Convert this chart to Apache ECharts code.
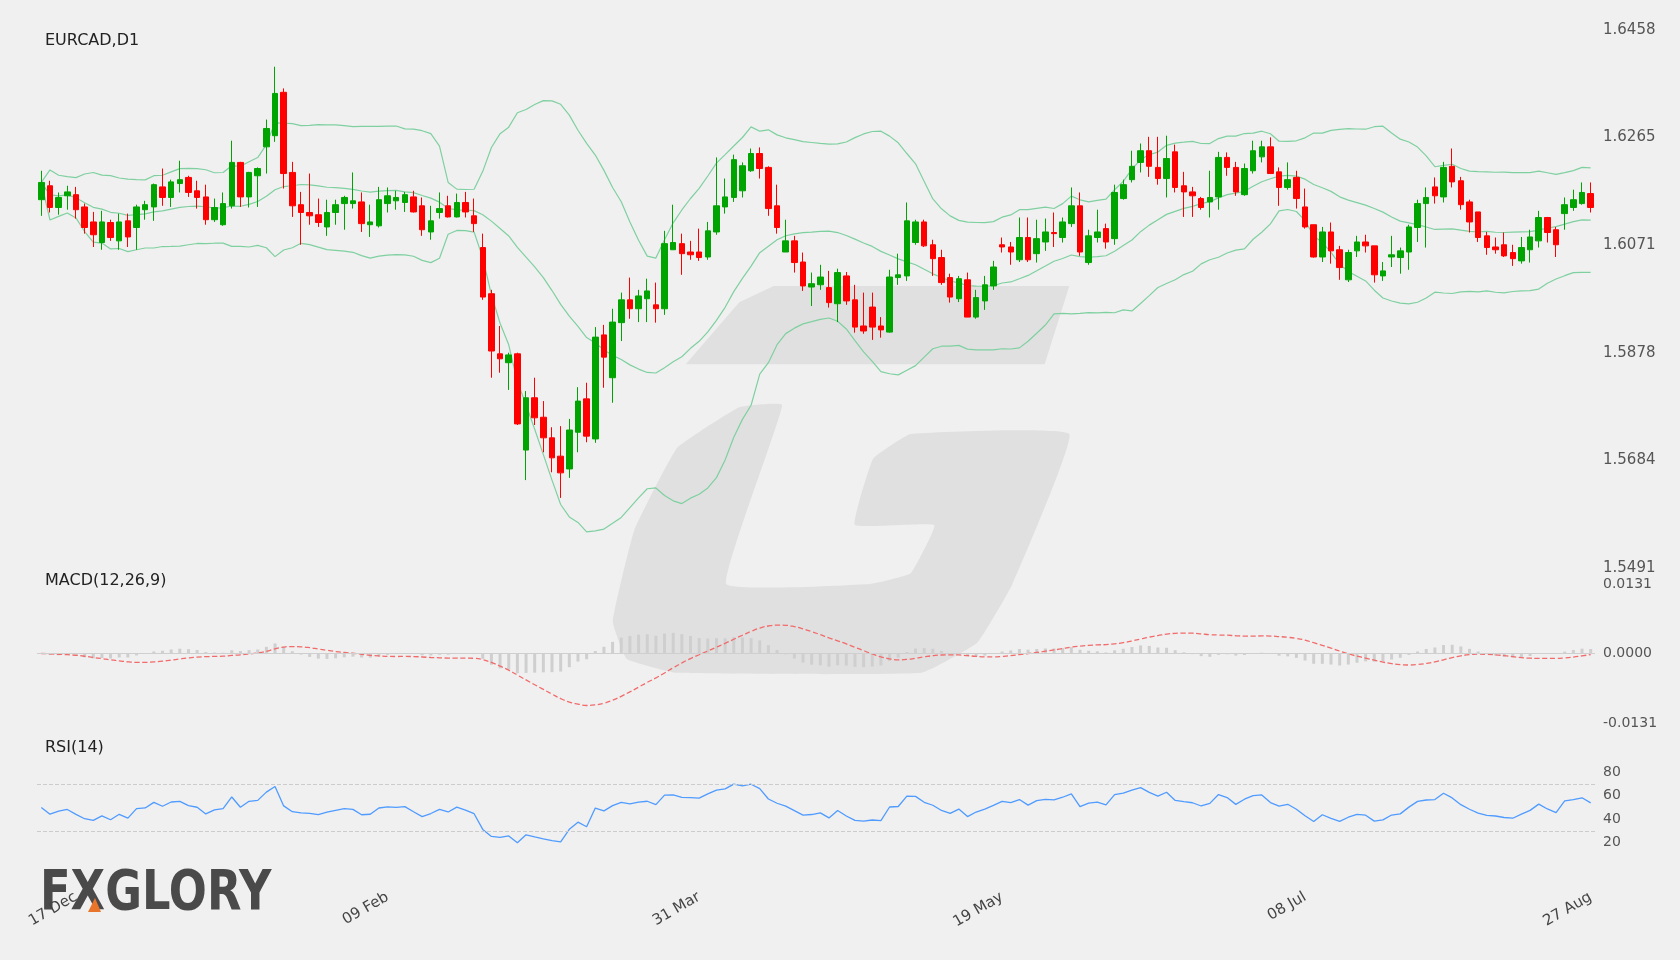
<!DOCTYPE html>
<html><head><meta charset="utf-8">
<script src="https://cdn.jsdelivr.net/npm/echarts@6/dist/echarts.min.js"></script>
<style>html,body{margin:0;padding:0;background:#f0f0f0}#c{width:1680px;height:960px}</style>
</head><body><div id="c"></div>
<script>
const opens=[1.6153,1.6178,1.6139,1.6160,1.6162,1.6140,1.6113,1.6076,1.6112,1.6079,1.6115,1.6103,1.6135,1.6140,1.6176,1.6157,1.6182,1.6193,1.6169,1.6158,
1.6117,1.6108,1.6142,1.6220,1.6158,1.6196,1.6248,1.6268,1.6346,1.6202,1.6144,1.6130,1.6126,1.6104,1.6130,1.6146,1.6146,1.6149,1.6108,1.6106,
1.6146,1.6151,1.6148,1.6158,1.6142,1.6095,1.6130,1.6142,1.6122,1.6148,1.6124,1.6067,1.5984,1.5876,1.5860,1.5876,1.5703,1.5797,1.5762,1.5725,
1.5692,1.5669,1.5735,1.5795,1.5723,1.5910,1.5833,1.5932,1.5973,1.5957,1.5975,1.5964,1.5957,1.6063,1.6074,1.6059,1.6059,1.6050,1.6095,1.6140,
1.6157,1.6169,1.6205,1.6236,1.6211,1.6142,1.6059,1.6079,1.6041,1.5996,1.6000,1.5995,1.5966,1.6016,1.5973,1.5926,1.5960,1.5926,1.5915,1.6013,
1.6016,1.6076,1.6113,1.6072,1.6049,1.6013,1.5975,1.6009,1.5942,1.5971,1.5998,1.6072,1.6068,1.6045,1.6085,1.6056,1.6077,1.6094,1.6085,1.6110,
1.6142,1.6040,1.6085,1.6101,1.6083,1.6155,1.6189,1.6220,1.6241,1.6211,1.6191,1.6239,1.6178,1.6167,1.6155,1.6149,1.6158,1.6229,1.6211,1.6162,
1.6205,1.6230,1.6248,1.6203,1.6175,1.6193,1.6140,1.6108,1.6050,1.6095,1.6063,1.6009,1.6061,1.6077,1.6070,1.6016,1.6050,1.6049,1.6059,1.6103,
1.6146,1.6176,1.6158,1.6213,1.6187,1.6149,1.6131,1.6088,1.6068,1.6072,1.6058,1.6043,1.6063,1.6079,1.6121,1.6099,1.6128,1.6139,1.6146,1.6164];
const closes=[1.6184,1.6139,1.6157,1.6167,1.6135,1.6103,1.6090,1.6113,1.6085,1.6113,1.6086,1.6140,1.6144,1.6180,1.6157,1.6185,1.6189,1.6166,1.6157,1.6117,
1.6139,1.6146,1.6220,1.6158,1.6202,1.6209,1.6281,1.6344,1.6200,1.6142,1.6130,1.6124,1.6112,1.6130,1.6144,1.6157,1.6151,1.6110,1.6113,1.6153,
1.6160,1.6157,1.6162,1.6131,1.6099,1.6115,1.6137,1.6122,1.6148,1.6131,1.6110,1.5978,1.5881,1.5867,1.5874,1.5750,1.5797,1.5761,1.5725,1.5689,
1.5662,1.5739,1.5791,1.5728,1.5906,1.5870,1.5933,1.5973,1.5957,1.5980,1.5989,1.5957,1.6074,1.6076,1.6056,1.6054,1.6049,1.6097,1.6142,1.6158,
1.6225,1.6214,1.6236,1.6209,1.6137,1.6103,1.6079,1.6040,1.5998,1.6002,1.6014,1.5968,1.6022,1.5971,1.5924,1.5917,1.5924,1.5919,1.6014,1.6018,
1.6115,1.6113,1.6070,1.6047,1.6004,1.5978,1.6011,1.5942,1.5977,1.6000,1.6032,1.6068,1.6059,1.6085,1.6045,1.6083,1.6095,1.6092,1.6113,1.6142,
1.6059,1.6088,1.6095,1.6077,1.6166,1.6180,1.6213,1.6241,1.6213,1.6191,1.6227,1.6175,1.6167,1.6160,1.6139,1.6157,1.6229,1.6211,1.6167,1.6209,
1.6241,1.6248,1.6200,1.6175,1.6189,1.6155,1.6104,1.6050,1.6095,1.6061,1.6031,1.6058,1.6077,1.6070,1.6018,1.6025,1.6054,1.6061,1.6104,1.6146,
1.6157,1.6160,1.6211,1.6185,1.6144,1.6113,1.6085,1.6067,1.6063,1.6052,1.6047,1.6067,1.6086,1.6121,1.6094,1.6072,1.6144,1.6153,1.6166,1.6139];
const highs=[1.6205,1.6187,1.6166,1.6178,1.6176,1.6146,1.6131,1.6133,1.6117,1.6128,1.6128,1.6144,1.6151,1.6182,1.6209,1.6189,1.6223,1.6196,1.6187,1.6180,
1.6155,1.6166,1.6259,1.6221,1.6203,1.6211,1.6297,1.6392,1.6353,1.6221,1.6167,1.6200,1.6155,1.6153,1.6153,1.6160,1.6202,1.6166,1.6144,1.6176,
1.6175,1.6169,1.6167,1.6169,1.6157,1.6142,1.6166,1.6160,1.6164,1.6167,1.6155,1.6092,1.5991,1.5926,1.5878,1.5878,1.5809,1.5833,1.5791,1.5744,
1.5746,1.5759,1.5816,1.5824,1.5924,1.5928,1.5957,1.5986,1.6013,1.5991,1.6011,1.6004,1.6097,1.6144,1.6092,1.6079,1.6101,1.6113,1.6229,1.6191,
1.6234,1.6220,1.6245,1.6247,1.6213,1.6180,1.6117,1.6088,1.6058,1.6022,1.6036,1.6025,1.6029,1.6023,1.6000,1.5986,1.5986,1.5942,1.6027,1.6056,
1.6148,1.6117,1.6117,1.6081,1.6063,1.6020,1.6016,1.6022,1.5991,1.6016,1.6043,1.6085,1.6077,1.6121,1.6121,1.6117,1.6119,1.6130,1.6121,1.6175,
1.6166,1.6099,1.6135,1.6110,1.6180,1.6189,1.6241,1.6254,1.6266,1.6266,1.6268,1.6252,1.6203,1.6176,1.6158,1.6205,1.6239,1.6238,1.6221,1.6218,
1.6259,1.6259,1.6265,1.6211,1.6220,1.6205,1.6173,1.6108,1.6104,1.6112,1.6070,1.6063,1.6088,1.6090,1.6070,1.6041,1.6088,1.6067,1.6108,1.6153,
1.6175,1.6193,1.6221,1.6245,1.6194,1.6153,1.6131,1.6095,1.6085,1.6094,1.6072,1.6086,1.6099,1.6133,1.6122,1.6104,1.6157,1.6171,1.6184,1.6184];
const lows=[1.6124,1.6130,1.6126,1.6135,1.6119,1.6092,1.6068,1.6063,1.6079,1.6063,1.6068,1.6063,1.6117,1.6115,1.6142,1.6140,1.6166,1.6158,1.6137,1.6108,
1.6113,1.6106,1.6137,1.6140,1.6139,1.6140,1.6200,1.6257,1.6173,1.6122,1.6072,1.6108,1.6104,1.6088,1.6108,1.6099,1.6137,1.6095,1.6086,1.6103,
1.6130,1.6135,1.6131,1.6130,1.6088,1.6081,1.6119,1.6121,1.6121,1.6121,1.6095,1.5973,1.5833,1.5842,1.5811,1.5748,1.5649,1.5748,1.5699,1.5663,
1.5617,1.5653,1.5699,1.5717,1.5716,1.5815,1.5788,1.5899,1.5939,1.5933,1.5933,1.5932,1.5946,1.6063,1.6018,1.6045,1.6043,1.6045,1.6090,1.6128,
1.6149,1.6157,1.6203,1.6191,1.6124,1.6092,1.6059,1.6022,1.5989,1.5962,1.5991,1.5959,1.5933,1.5964,1.5914,1.5912,1.5901,1.5905,1.5914,1.6000,
1.6007,1.6072,1.6068,1.6016,1.6000,1.5968,1.5969,1.5942,1.5939,1.5955,1.5991,1.6058,1.6036,1.6041,1.6041,1.6040,1.6061,1.6068,1.6076,1.6104,
1.6052,1.6036,1.6076,1.6065,1.6072,1.6153,1.6184,1.6202,1.6194,1.6180,1.6157,1.6166,1.6122,1.6122,1.6135,1.6121,1.6135,1.6196,1.6160,1.6160,
1.6200,1.6220,1.6200,1.6142,1.6171,1.6137,1.6101,1.6049,1.6041,1.6038,1.6009,1.6005,1.6050,1.6058,1.6004,1.6007,1.6032,1.6020,1.6027,1.6077,
1.6067,1.6146,1.6148,1.6175,1.6135,1.6094,1.6077,1.6054,1.6056,1.6050,1.6034,1.6038,1.6040,1.6067,1.6076,1.6050,1.6099,1.6133,1.6144,1.6130];
const tickLabels={4:'17 Dec',40:'09 Feb',76:'31 Mar',111:'19 May',146:'08 Jul',179:'27 Aug'};
const priceTicks=[1.5491,1.6458];
const macdTicks=[-0.0131,0.0131];

const N=closes.length;
const cats=closes.map((_,i)=>String(i));
const kdata=closes.map((c,i)=>[opens[i],c,lows[i],highs[i]]);
const bbU=[],bbM=[],bbL=[];
for(let i=0;i<N;i++){const s=Math.max(0,i-19);const w=closes.slice(s,i+1);const m=w.reduce((a,b)=>a+b,0)/w.length;
 const sd=Math.sqrt(w.reduce((a,b)=>a+(b-m)*(b-m),0)/w.length);bbM.push(m);bbU.push(m+2*sd);bbL.push(m-2*sd);}
function ema(arr,p){const k=2/(p+1);const o=[];let e=arr[0];arr.forEach((v,i)=>{e=i?v*k+e*(1-k):v;o.push(e)});return o;}
const e12=ema(closes,12),e26=ema(closes,26);const macd=e12.map((v,i)=>v-e26[i]);const sig=ema(macd,9);
const hist=macd.map((v,i)=>v-sig[i]);
const rsi=[];let seed=0;for(let i=1;i<=14;i++)seed+=Math.abs(closes[i]-closes[i-1]);seed/=14;
let ag=seed/2,al=seed/2;
for(let i=0;i<N;i++){if(i===0){rsi.push(50);continue;}const d=closes[i]-closes[i-1];const g=Math.max(d,0),l=Math.max(-d,0);
 ag=(ag*13+g)/14;al=(al*13+l)/14;rsi.push(al===0?100:100-100/(1+ag/al));}

const lab={color:'#555',fontSize:15,fontFamily:'DejaVu Sans'};
const chart=echarts.init(document.getElementById('c'));
const S=1680/1568;
const wm=[[640,340],[690,282],[722,267],[998,267],[975,340]];
const wm2=[[730,378],[690,380],[632,418],[592,495],[572,580],[585,615],[632,628],[860,628],[912,600],[945,545],[998,405],[850,405],[815,428],[798,490],[872,490],[850,535],[812,545],[678,545]];
const sc=p=>p.map(q=>[q[0]*S,q[1]*S]);
chart.setOption({
 backgroundColor:'#f0f0f0',animation:false,
 graphic:[
  {type:'polygon',z:-10,shape:{points:sc(wm)},style:{fill:'#e0e0e0'},silent:true},
  {type:'polygon',z:-10,shape:{points:sc(wm2),smooth:0.1},style:{fill:'#e0e0e0'},silent:true},
  {type:'text',left:45,top:33,style:{text:'EURCAD,D1',fill:'#222',font:'16px DejaVu Sans'}},
  {type:'text',left:45,top:573,style:{text:'MACD(12,26,9)',fill:'#222',font:'16px DejaVu Sans'}},
  {type:'text',left:45,top:740,style:{text:'RSI(14)',fill:'#222',font:'16px DejaVu Sans'}},
  {type:'text',x:40,y:866,scaleX:0.8,z:-5,style:{text:'FXGLORY',fill:'#4a4a4a',font:'bold 56px "DejaVu Sans", sans-serif'}},
  {type:'polygon',z:-4,shape:{points:[[88,912],[95,898],[101,912]]},style:{fill:'#e8752a'}}
 ],
 grid:[{left:37,right:85,top:30,height:538},{left:37,right:85,top:584,height:139},{left:37,right:85,top:749,height:117}],
 xAxis:[0,1,2].map(g=>({type:'category',gridIndex:g,data:cats,boundaryGap:true,
   axisLine:{show:false},axisTick:{show:false},splitLine:{show:false},
   axisLabel:g===2?{show:true,interval:0,rotate:30,margin:30,color:'#444',fontSize:15,fontFamily:'DejaVu Sans',formatter:(v,i)=>tickLabels[i]||''}:{show:false}})),
 yAxis:[
  {gridIndex:0,position:'right',min:priceTicks[0],max:priceTicks[1],interval:(priceTicks[1]-priceTicks[0])/5,scale:true,
   axisLine:{show:false},axisTick:{show:false},splitLine:{show:false},axisLabel:{...lab,margin:8,formatter:v=>v.toFixed(4)}},
  {gridIndex:1,position:'right',min:macdTicks[0],max:macdTicks[1],interval:macdTicks[1],
   axisLine:{show:false},axisTick:{show:false},splitLine:{show:false},axisLabel:{...lab,fontSize:14,margin:8,formatter:v=>v.toFixed(4)}},
  {gridIndex:2,position:'right',min:0,max:100,interval:20,
   axisLine:{show:false},axisTick:{show:false},splitLine:{show:false},axisLabel:{...lab,fontSize:14,margin:8,formatter:v=>(v===0||v===100)?'':String(v)}}
 ],
 series:[
  {type:'line',xAxisIndex:0,yAxisIndex:0,data:bbU,symbol:'none',lineStyle:{color:'#7fd0a0',width:1.2},z:1},
  {type:'line',xAxisIndex:0,yAxisIndex:0,data:bbM,symbol:'none',lineStyle:{color:'#7fd0a0',width:1.2},z:1},
  {type:'line',xAxisIndex:0,yAxisIndex:0,data:bbL,symbol:'none',lineStyle:{color:'#7fd0a0',width:1.2},z:1},
  {type:'candlestick',xAxisIndex:0,yAxisIndex:0,data:kdata,barWidth:6,z:3,
   itemStyle:{color:'#00a400',color0:'#ff0000',borderColor:'#00a400',borderColor0:'#ff0000',borderWidth:1}},
  {type:'bar',xAxisIndex:1,yAxisIndex:1,data:hist,barWidth:3,itemStyle:{color:'#cfcfcf'},z:1},
  {type:'line',xAxisIndex:1,yAxisIndex:1,data:sig,symbol:'none',smooth:true,lineStyle:{color:'#f26a6a',width:1.3,type:'dashed'},z:2,
   markLine:{silent:true,symbol:'none',label:{show:false},lineStyle:{color:'#cfcfcf',type:'solid',width:1},data:[{yAxis:0}]}},
  {type:'line',xAxisIndex:2,yAxisIndex:2,data:rsi,symbol:'none',lineStyle:{color:'#4f9bff',width:1.3},z:2,
   markLine:{silent:true,symbol:'none',label:{show:false},lineStyle:{color:'#cccccc',type:'dashed',width:1},data:[{yAxis:30},{yAxis:70}]}}
 ]
});
</script></body></html>
